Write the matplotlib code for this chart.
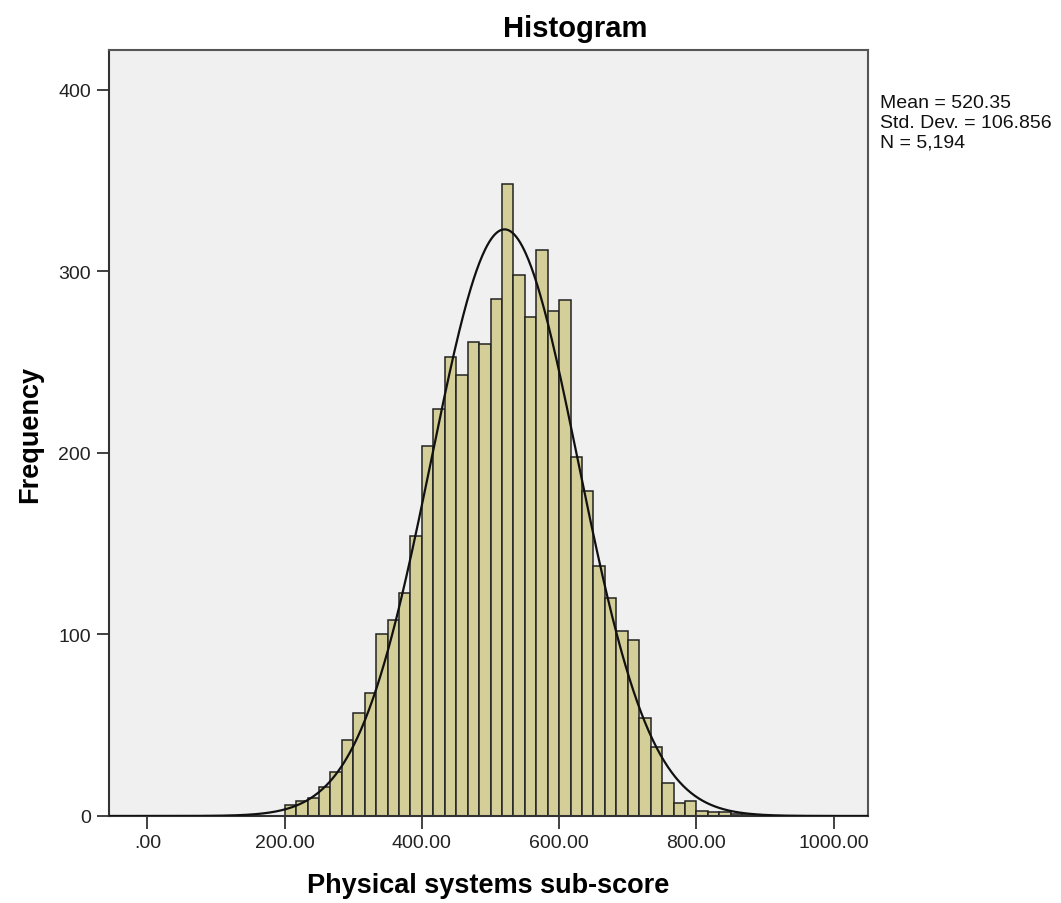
import numpy as np
import matplotlib
matplotlib.use("Agg")
import matplotlib.pyplot as plt

# histogram counts, bins start at 200, width 1000/60
bin_start = 200.0
bin_width = 1000.0 / 60
counts = [6, 8, 10, 16, 24, 42, 57, 68, 100, 108,
          123, 154, 204, 224, 253, 243, 261, 260, 285, 348,
          298, 275, 312, 278, 284, 198, 179, 138, 120, 102,
          97, 54, 38, 18, 7, 8, 3, 2, 2, 1, 1]

mean = 520.35
std = 106.856
n = 5194

x_ticks = [0, 200, 400, 600, 800, 1000]
x_ticklabels = [".00", "200.00", "400.00", "600.00", "800.00", "1000.00"]
y_ticks = [0, 100, 200, 300, 400]

plt.rcParams['font.family'] = ['Liberation Sans', 'DejaVu Sans']

W, H = 1061, 904
fig = plt.figure(figsize=(W / 100, H / 100), dpi=100)
fig.patch.set_facecolor("white")
# axes box in pixels: left 109, right 868, top 51, bottom 817
ax = fig.add_axes([109 / W, 1 - 817 / H, (868 - 109) / W, (817 - 51) / H])
ax.set_facecolor("#F0F0F0")

lefts = bin_start + bin_width * np.arange(len(counts))
ax.bar(lefts, counts, width=bin_width, align="edge",
       color="#D4CF98", edgecolor="#222222", linewidth=1.1, zorder=2)

# fitted normal curve
xs = np.linspace(-60, 1060, 800)
ys = n * bin_width / (std * np.sqrt(2 * np.pi)) * np.exp(-0.5 * ((xs - mean) / std) ** 2)
ax.plot(xs, ys, color="#111111", linewidth=1.6, zorder=3)

ax.set_xlim(-56, 1050)
ax.set_ylim(0, 422)
ax.set_xticks(x_ticks)
ax.set_xticklabels(x_ticklabels)
ax.set_yticks(y_ticks)
ax.tick_params(direction="out", length=9, width=1.3, color="#333333",
               labelsize=14, labelcolor="#222222", pad=4)

for side in ["left", "bottom", "top", "right"]:
    ax.spines[side].set_color("#555555")
    ax.spines[side].set_linewidth(1.5)
ax.spines["left"].set_color("#333333")
ax.spines["bottom"].set_color("#333333")

# axis labels placed in figure pixels
fig.text(488 / W, 1 - 886 / H, "Physical systems sub-score", fontsize=19.5,
         fontweight="bold", ha="center", va="center")
fig.text(30 / W, 1 - 434 / H, "Frequency", fontsize=19.5, fontweight="bold",
         ha="center", va="center", rotation=90)

fig.text(575 / W, 1 - 29 / H, "Histogram", fontsize=21, fontweight="bold",
         ha="center", va="center")

stats = ["Mean = 520.35", "Std. Dev. = 106.856", "N = 5,194"]
for i, s in enumerate(stats):
    fig.text(880 / W, 1 - (103 + 20 * i) / H, s, fontsize=14,
             ha="left", va="center", color="#111111")

fig.savefig("out.png", dpi=100)
